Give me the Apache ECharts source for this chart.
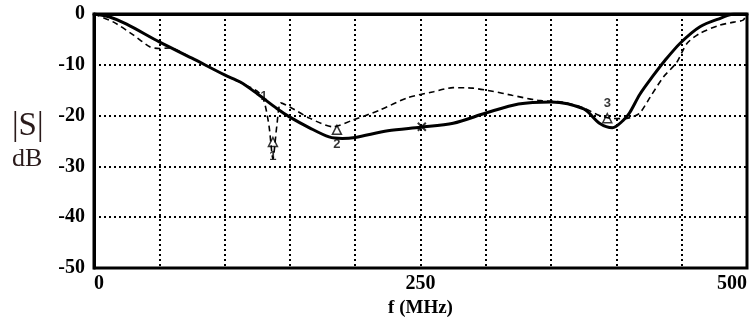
<!DOCTYPE html>
<html><head><meta charset="utf-8">
<script src="https://cdn.jsdelivr.net/npm/echarts@6/dist/echarts.min.js"></script>
<style>html,body{margin:0;padding:0;background:#fff}#c{width:753px;height:324px}</style>
</head><body><div id="c"></div>
<script>
var solidF  = [0,12,25,50,75,100,112,125,140,150,165,180,190,200,225,250,275,300,325,350,375,387,397,405,410,418,428,437,449,464,480,490,500];
var solidDb = [0,-0.6,-2,-5.5,-8.7,-12,-13.4,-15.7,-18.6,-20.3,-22.4,-24.2,-24.5,-24.3,-23,-22.3,-21.5,-19.5,-17.7,-17.3,-18.7,-21.5,-22.4,-21,-19.5,-15.8,-12.2,-9.2,-5.7,-2.5,-0.8,0,0];
var dashF  = [0,15,30,43,50,58,75,100,125,130,134,137,140,143,150,165,183,198,219,240,260,275,290,305,320,340,360,375,387,395,405,412,418,426,436,446,454,464,479,490,497,500];
var dashDb = [0,-1.6,-4.1,-6.5,-6.8,-6.7,-8.7,-12,-15.2,-17,-22,-28.5,-22,-17.5,-18.3,-20.5,-22.2,-20.9,-18.9,-16.5,-15.3,-14.5,-14.6,-15.2,-16,-17,-17.4,-18.5,-20,-20.5,-20.6,-20.3,-19.5,-16.3,-12.4,-9.6,-5.8,-3.8,-2.2,-1.6,-1.2,0];
var markerF  = [137,186,393];
var markerDb = [-25.2,-22.8,-20.5];
var markerLabels = ['1','2','3'];
var markerPos = ['bottom','bottom','top'];
var yTicks = [0,-10,-20,-30,-40,-50];
var xTickLabels = [0,250,500];

function zip(a,b){return a.map(function(v,i){return [v,b[i]];});}
var chart = echarts.init(document.getElementById('c'));
var serif = 'Liberation Serif';
chart.setOption({
  animation:false,
  backgroundColor:'#fff',
  grid:{left:94,right:6,top:14,bottom:56,show:true,borderColor:'#000',borderWidth:3},
  xAxis:{type:'value',min:0,max:500,interval:50,
    axisLine:{show:true,lineStyle:{color:'#000',width:3}},
    axisTick:{show:false},
    splitLine:{show:true,lineStyle:{color:'#000',width:2,type:[2,3]}},
    axisLabel:{color:'#000',fontFamily:serif,fontWeight:'bold',fontSize:20,margin:6,
      alignMinLabel:'left',alignMaxLabel:'right',
      formatter:function(v){return xTickLabels.indexOf(v)>=0?String(v):'';}},
    name:'f (MHz)',nameLocation:'middle',nameGap:30,
    nameTextStyle:{color:'#000',fontFamily:serif,fontWeight:'bold',fontSize:19}
  },
  yAxis:{type:'value',min:-50,max:0,interval:10,
    axisLine:{show:true,lineStyle:{color:'#000',width:3}},
    axisTick:{show:false},
    splitLine:{show:true,lineStyle:{color:'#000',width:2,type:[2,3]}},
    axisLabel:{color:'#000',fontFamily:serif,fontWeight:'bold',fontSize:20,margin:9,
      formatter:function(v){return yTicks.indexOf(v)>=0?String(v):'';}}
  },
  graphic:[
    {type:'text',left:12,top:110,style:{text:'|S|',font:'33px "Liberation Serif"',fill:'#2a1a1a'}},
    {type:'text',left:12,top:146,style:{text:'dB',font:'26px "Liberation Serif"',fill:'#2a1a1a'}}
  ],
  series:[
    {type:'line',data:zip(dashF,dashDb),symbol:'none',smooth:0.25,
      lineStyle:{color:'#000',width:1.6,type:[6,4]},z:3},
    {type:'line',data:zip(solidF,solidDb),symbol:'none',smooth:0.3,
      lineStyle:{color:'#000',width:3},z:4},
    {type:'scatter',data:markerF.map(function(f,i){return {value:[f,markerDb[i]],label:{position:markerPos[i],formatter:markerLabels[i]}};}),
      symbol:'triangle',symbolSize:9,
      itemStyle:{color:'rgba(0,0,0,0)',borderColor:'#000',borderWidth:1.5},
      label:{show:true,color:'#000',fontFamily:'Liberation Sans',fontWeight:'bold',fontSize:13,distance:3},z:5},
    {type:'scatter',data:[[130,-16.3]],symbolSize:0,
      label:{show:true,position:'inside',formatter:'1',color:'#000',fontFamily:'Liberation Sans',fontWeight:'bold',fontSize:12},z:5},
    {type:'scatter',data:[[251,-22.2]],symbol:'path://M0,0L10,10M10,0L0,10',symbolSize:8,
      itemStyle:{color:'rgba(0,0,0,0)',borderColor:'#000',borderWidth:2},z:5}
  ]
});
</script></body></html>
